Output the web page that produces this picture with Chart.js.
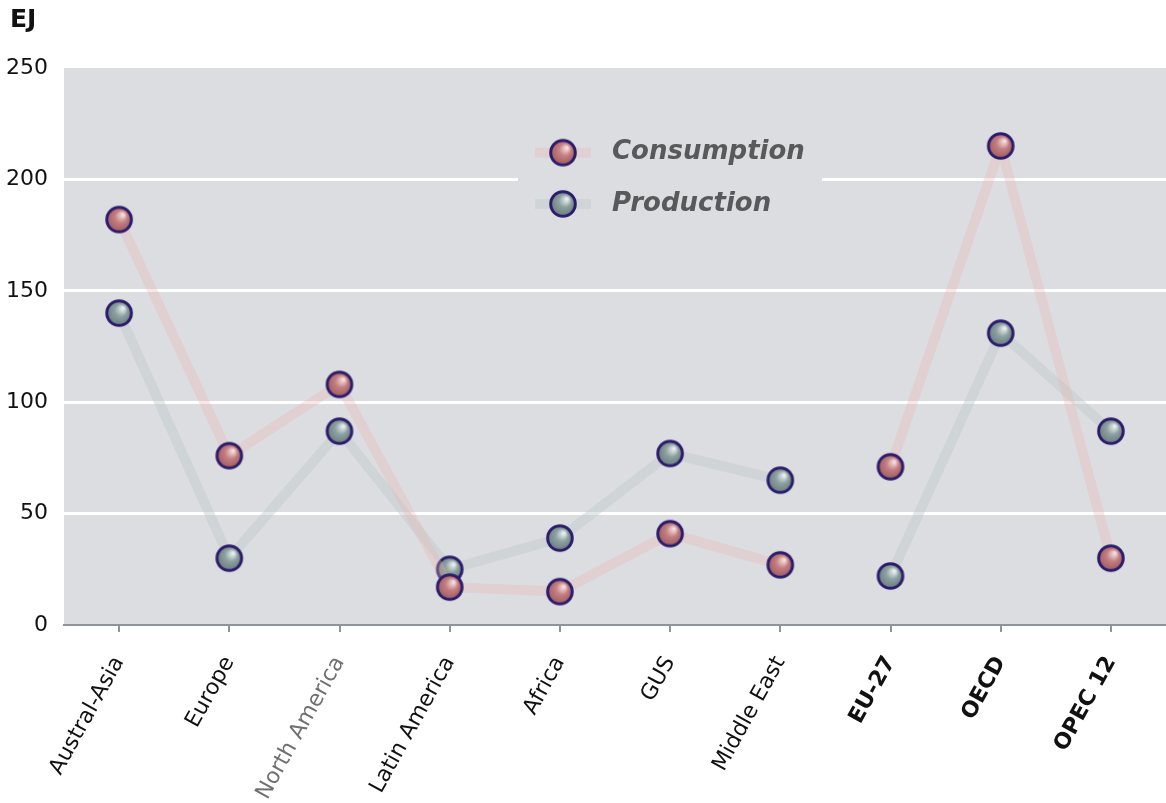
<!DOCTYPE html>
<html>
<head>
<meta charset="utf-8">
<script src="https://cdn.jsdelivr.net/npm/chart.js@4.4.1/dist/chart.umd.min.js"></script>
<style>
  html, body { margin: 0; padding: 0; background: #fff; }
  canvas { display: block; }
</style>
</head>
<body>
<canvas id="energyChart" width="1166" height="803"></canvas>
<script>
const categories = ['Austral-Asia', 'Europe', 'North America', 'Latin America', 'Africa', 'GUS', 'Middle East', 'EU-27', 'OECD', 'OPEC 12'];
const consumption = [182, 76, 108, 17, 15, 41, 27, 71, 215, 30];
const production = [140, 30, 87, 25, 39, 77, 65, 22, 131, 87];
const yTicks = [0, 50, 100, 150, 200, 250];
const seriesNames = ['Consumption', 'Production'];
const unitLabel = 'EJ';

const FONT = "'DejaVu Sans', Verdana, sans-serif";

// shiny ball markers
function makeBall(light, mid, dark) {
    const c = document.createElement('canvas');
    c.width = 30; c.height = 30;
    const g = c.getContext('2d');
    const grad = g.createRadialGradient(19, 10, 1, 14, 15, 14);
    grad.addColorStop(0, light);
    grad.addColorStop(0.4, mid);
    grad.addColorStop(1, dark);
    g.beginPath();
    g.arc(15, 15, 12.3, 0, Math.PI * 2);
    g.fillStyle = grad;
    g.fill();
    g.lineWidth = 3;
    g.strokeStyle = '#2c1c6c';
    g.stroke();
    return c;
}
const redBall = makeBall('#f3dcdc', '#c47f81', '#97545a');
const greyBall = makeBall('#e6eded', '#8fa2a2', '#637678');

const consColor = 'rgba(234,180,178,0.32)';
const prodColor = 'rgba(190,205,203,0.45)';

// lines break between regions and aggregates
function lineSegColor(color) {
    return ctx => ctx.p0DataIndex === 6 ? 'rgba(0,0,0,0)' : color;
}

const bgPlugin = {
    id: 'plotBg',
    beforeDraw(chart) {
        const { ctx, chartArea: a } = chart;
        ctx.save();
        ctx.fillStyle = '#dcdde0';
        ctx.fillRect(a.left, a.top, a.right - a.left, a.bottom - a.top);
        ctx.restore();
    },
    afterDraw(chart) {
        const ctx = chart.ctx;
        ctx.save();
        ctx.fillStyle = '#111';
        ctx.font = 'bold 25px ' + FONT;
        ctx.textBaseline = 'middle';
        ctx.fillText(unitLabel, 10, 20);
        ctx.restore();
    }
};

const legendPlugin = {
    id: 'ballLegend',
    afterDatasetsDraw(chart) {
        const ctx = chart.ctx;
        const y = chart.scales.y;
        const rows = [y.getPixelForValue(212), y.getPixelForValue(189)];
        ctx.save();
        ctx.fillStyle = '#dcdde0';
        ctx.fillRect(518, rows[0] - 28, 304, rows[1] - rows[0] + 56);
        chart.data.datasets.forEach((ds, i) => {
            const yy = rows[i];
            ctx.strokeStyle = ds.borderColor;
            ctx.lineWidth = 10;
            ctx.beginPath();
            ctx.moveTo(535, yy);
            ctx.lineTo(591, yy);
            ctx.stroke();
            ctx.drawImage(ds.pointStyle, 563 - 15, yy - 15);
            ctx.fillStyle = '#58595b';
            ctx.font = 'italic bold 26px ' + FONT;
            ctx.textBaseline = 'middle';
            ctx.fillText(ds.label, 612, yy);
        });
        ctx.restore();
    }
};

new Chart(document.getElementById('energyChart'), {
    type: 'line',
    data: {
        labels: categories,
        datasets: [{
            label: seriesNames[0],
            data: consumption,
            borderColor: consColor,
            borderWidth: 10,
            borderJoinStyle: 'round',
            segment: { borderColor: lineSegColor(consColor) },
            pointStyle: redBall,
            pointRadius: 13,
            tension: 0
        }, {
            label: seriesNames[1],
            data: production,
            borderColor: prodColor,
            borderWidth: 10,
            borderJoinStyle: 'round',
            segment: { borderColor: lineSegColor(prodColor) },
            pointStyle: greyBall,
            pointRadius: 13,
            tension: 0
        }]
    },
    options: {
        responsive: false,
        animation: false,
        layout: {
            autoPadding: false,
            padding: { top: 68, left: 0, right: 0, bottom: 0 }
        },
        plugins: {
            legend: { display: false },
            tooltip: { enabled: false }
        },
        scales: {
            x: {
                offset: true,
                afterFit: s => {
                    s.height = 178;
                    s.paddingLeft = 0;
                    s.paddingRight = 0;
                },
                grid: {
                    drawOnChartArea: false,
                    drawTicks: true,
                    tickLength: 7,
                    color: '#8c959b',
                    lineWidth: 2
                },
                border: { display: true, color: '#8c959b', width: 2 },
                ticks: {
                    autoSkip: false,
                    minRotation: 61,
                    maxRotation: 61,
                    padding: 20,
                    color: ctx => ctx.index === 2 ? '#707070' : '#111',
                    font: ctx => ({
                        family: FONT,
                        size: 22,
                        weight: ctx.index >= 7 ? 'bold' : 'normal'
                    })
                }
            },
            y: {
                min: 0,
                max: 250,
                afterFit: s => { s.width = 64; },
                afterBuildTicks: s => { s.ticks = yTicks.map(v => ({ value: v })); },
                grid: {
                    drawTicks: false,
                    lineWidth: 3,
                    color: ctx => (ctx.tick && (ctx.tick.value === 0 || ctx.tick.value === 250)) ? 'rgba(0,0,0,0)' : '#ffffff'
                },
                border: { display: false },
                ticks: {
                    padding: 16,
                    color: '#111',
                    font: { family: FONT, size: 22 }
                }
            }
        }
    },
    plugins: [bgPlugin, legendPlugin]
});
</script>
</body>
</html>
